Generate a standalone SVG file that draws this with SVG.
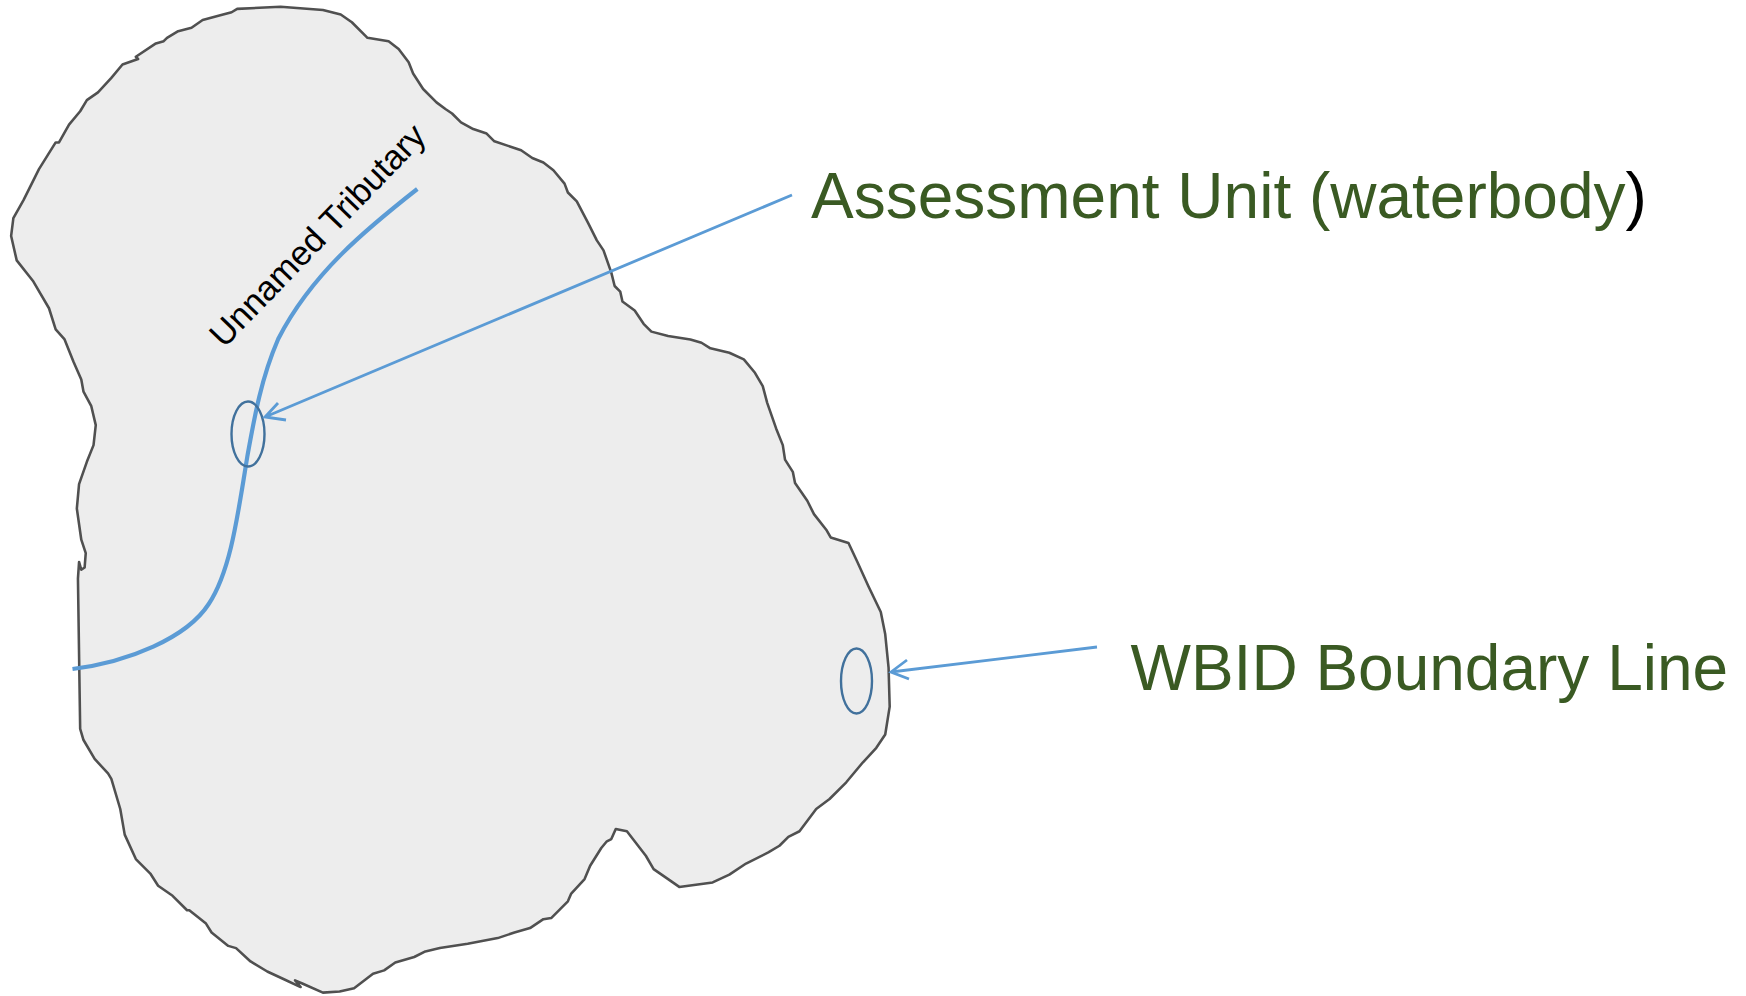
<svg xmlns="http://www.w3.org/2000/svg" width="1746" height="996" viewBox="0 0 1746 996">
<style>
.label{font-family:"Liberation Sans",Arial,sans-serif;font-size:64px;fill:#3a5a23}
.ring{fill:none;stroke:#41719c;stroke-width:2.4}
.lead{fill:none;stroke:#5b9bd5;stroke-width:2.8}
.river{fill:none;stroke:#5b9bd5;stroke-width:4.2}
</style>
<rect width="1746" height="996" fill="#ffffff"/>
<g id="watershed">
<path transform="scale(1.1135 1.1128)" fill="#ededed" stroke="#505050" stroke-width="2.3" stroke-linejoin="round" d="M213,8 L252,6 L290,9 L306,13 L316,20 L328,32 L330,34 L349,37 L358,44 L367,56 L371,66 L380,80 L392,92 L400,98 L406,102 L414,110 L425,116 L437,120 L444,127 L468,135 L478,142 L488,146 L497,153 L507,165 L510,173 L518,181 L528,200 L536,216 L542,225 L549,245 L552,257 L557,262 L559,271 L570,279 L578,291 L585,298 L600,302 L620,305 L630,308 L638,313 L655,317 L668,323 L678,335 L685,347 L689,362 L697,385 L703,400 L705,413 L712,424 L714,434 L725,450 L731,462 L742,476 L746,483 L762,488 L770,505 L780,527 L791,550 L795,570 L798,600 L799,635 L795,660 L787,672 L775,685 L760,703 L745,718 L733,727 L718,747 L708,752 L700,760 L690,766 L670,776 L655,786 L640,793 L610,797 L600,790 L587,781 L580,769 L563,747 L553,745 L549,754 L545,756 L540,762 L530,778 L525,790 L513,803 L510,810 L495,825 L488,826 L476,834 L462,838 L447,843 L420,848 L395,852 L382,855 L372,860 L355,865 L345,872 L335,875 L318,888 L305,891 L290,892 L272,884 L265,881 L270,887 L255,880 L240,873 L225,864 L212,852 L205,850 L190,838 L185,830 L170,818 L168,818 L155,805 L142,796 L135,785 L122,772 L112,750 L108,727 L100,700 L97,695 L85,682 L75,665 L72,655 L70,520 L71,505 L73,512 L76,510 L77,497 L73,485 L69,457 L71,435 L78,415 L84,400 L86,382 L82,365 L75,352 L73,341 L66,325 L58,305 L50,296 L44,277 L30,253 L15,234 L10,212 L12,196 L21,180 L35,152 L50,128 L53,128 L62,112 L72,100 L78,90 L88,83 L100,70 L110,58 L124,53 L122,51 L140,39 L147,37 L150,34 L160,28 L172,25 L182,18 L197,14 L208,11 Z"/>
</g>
<g id="unnamed-tributary">
<path class="river" d="M417.3,189 C367.6,228 312,273 278.2,339 C261.3,378 254.4,417 247.4,456 C237.5,517 230.5,571 208.7,604 C186.8,638 128.2,662 72.5,669"/>
<text transform="translate(224,349) rotate(-46)" font-family="'Liberation Sans',Arial,sans-serif" font-size="34.5" fill="#000000">Unnamed Tributary</text>
</g>
<g id="assessment-unit-marker"><ellipse class="ring" cx="248" cy="434" rx="16.5" ry="32.5"/></g>
<g id="boundary-marker"><ellipse class="ring" cx="856.5" cy="681" rx="15.5" ry="32.5"/></g>
<g id="assessment-unit-label"><text class="label" x="811" y="218">Assessment Unit (waterbody<tspan fill="#000000">)</tspan></text></g>
<g id="boundary-label"><text class="label" x="1130.5" y="690">WBID Boundary Line</text></g>
<g id="connectors">
<path class="lead" d="M792,195 L265,417 M278,403 L265,417 L286,420"/>
<path class="lead" d="M1097,647 L891,672 M907,660 L891,672 L909,679"/>
</g>
</svg>
